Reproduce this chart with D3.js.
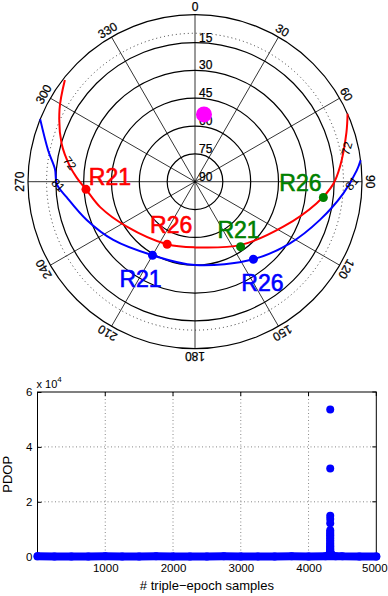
<!DOCTYPE html>
<html lang="en">
<head>
<meta charset="UTF-8">
<title>Sky plot and PDOP</title>
<script src="https://d3js.org/d3.v7.min.js"></script>
<style>
    body { margin: 0; background: #fff; }
    svg { display: block; font-family: "Liberation Sans", Arial, Helvetica, sans-serif; }
</style>
</head>
<body>
<div id="chart"></div>
<script>
    // ---- sky plot data (azimuth deg clockwise from north, elevation deg) ----
    var azTicks = [0, 30, 60, 90, 120, 150, 180, 210, 240, 270, 300, 330];
    var elRings = [15, 30, 45, 60, 75];
    var elLabels = [15, 30, 45, 60, 75, 90];
    var elMask = 10;

    // red track
    var redAz = [308, 298, 286, 277, 272, 266, 255, 237, 204, 180, 144, 117, 100, 91, 84, 72, 66];
    var redEl = [1, 7.3, 15.2, 22.1, 26.2, 31.1, 37.1, 45.9, 53.1, 54.6, 47.9, 36.6, 23.4, 15.5, 11.4, 4.2, 0];

    // blue track
    var blueAz = [292, 282, 275, 269, 263, 250.5, 234.5, 210, 180, 143, 123, 107, 94.5, 86, 82.6];
    var blueEl = [0, 9.1, 14.3, 15.5, 20.4, 28.1, 35.9, 44.2, 45.1, 37.7, 29, 19.6, 9.8, 2.6, 0];

    // satellites on the tracks
    var satName = ['R21', 'R26', 'R21', 'R26', 'R21', 'R26'];
    var satGroup = ['red', 'red', 'green', 'green', 'blue', 'blue'];
    var satAz = [266, 204, 145, 97, 210, 143];
    var satEl = [31.1, 53.1, 47.2, 20.3, 44.2, 37.7];

    // track tags
    var tagText = ['72', '81', '72', '81'];
    var tagAz = [278.4, 268.6, 77.6, 90.6];
    var tagEl = [21.9, 16.3, 6.3, 5.5];

    // magenta marker
    var markAz = 7.6;
    var markEl = 53.4;

    // ---- PDOP data ----
    var xTicks = [1000, 2000, 3000, 4000, 5000];
    var yTicks = [0, 20000, 40000, 60000];
    var baseSample = [1, 250, 500, 750, 1000, 1250, 1500, 1750, 2000, 2250, 2500, 2750, 3000,
                      3250, 3500, 3750, 4000, 4250, 4400, 4500, 4750, 5000];
    var basePdop = [120, 110, 100, 110, 120, 100, 110, 120, 110, 100, 110, 120, 110,
                    100, 110, 120, 110, 150, 200, 120, 110, 100];
    var spikeSample = [4320, 4320, 4320, 4320, 4320, 4320, 4320, 4320, 4320, 4320, 4320, 4320,
                       4320, 4320, 4320, 4320, 4320, 4320, 4320, 4320, 4320, 4320, 4320, 4320,
                       4290, 4300, 4310, 4335, 4345, 4355];
    var spikePdop = [53600, 32100, 14900, 13700, 12200, 9600, 9000, 8400, 7800, 7200, 6600, 6000,
                     5400, 4800, 4300, 3800, 3300, 2800, 2400, 2000, 1600, 1200, 800, 400,
                     400, 700, 1000, 1000, 600, 300];

    var width = 388, height = 596;
    var colors = { red: '#ff0000', green: '#008000', blue: '#0000ff' };

    var svg = d3.select('#chart').append('svg')
        .attr('width', width)
        .attr('height', height);

    svg.append('rect').attr('width', width).attr('height', height).attr('fill', '#fff');

    // ================= sky plot =================
    var cx = 195, cy = 181.7, R = 167;
    var rScale = d3.scaleLinear().domain([90, 0]).range([0, R]);
    var rad = d => d * Math.PI / 180;
    var px = (az, el) => cx + rScale(el) * Math.sin(rad(az));
    var py = (az, el) => cy - rScale(el) * Math.cos(rad(az));

    var sky = svg.append('g');

    // spokes
    sky.selectAll('.spoke')
        .data(azTicks)
        .enter().append('line')
        .attr('x1', cx).attr('y1', cy)
        .attr('x2', d => px(d, 0)).attr('y2', d => py(d, 0))
        .attr('stroke', '#000').attr('stroke-width', 0.8);

    // rings
    sky.selectAll('.ring')
        .data(elRings.concat([0]))
        .enter().append('circle')
        .attr('cx', cx).attr('cy', cy)
        .attr('r', d => rScale(d))
        .attr('fill', 'none')
        .attr('stroke', '#000').attr('stroke-width', 1.2);

    // elevation mask
    sky.append('circle')
        .attr('cx', cx).attr('cy', cy)
        .attr('r', rScale(elMask))
        .attr('fill', 'none')
        .attr('stroke', '#333').attr('stroke-width', 1)
        .attr('stroke-dasharray', '1,3');

    // azimuth labels
    sky.selectAll('.azl')
        .data(azTicks)
        .enter().append('text')
        .attr('transform', d => {
            var r = R + 8;
            var x = cx + r * Math.sin(rad(d));
            var y = cy - r * Math.cos(rad(d));
            return `translate(${x},${y}) rotate(${d})`;
        })
        .attr('text-anchor', 'middle')
        .attr('dy', '0.36em')
        .style('font-size', '12px')
        .attr('stroke', '#000').attr('stroke-width', 0.25)
        .text(d => d);

    // elevation labels
    sky.selectAll('.ell')
        .data(elLabels)
        .enter().append('text')
        .attr('x', cx + 4)
        .attr('y', d => cy - rScale(d) - 1)
        .style('font-size', '12px')
        .attr('stroke', '#000').attr('stroke-width', 0.25)
        .text(d => d);

    // tracks
    var line = d3.line().curve(d3.curveCatmullRom.alpha(0.5));
    var tracks = [
        { c: 'red', pts: redAz.map((a, i) => [px(a, redEl[i]), py(a, redEl[i])]) },
        { c: 'blue', pts: blueAz.map((a, i) => [px(a, blueEl[i]), py(a, blueEl[i])]) }
    ];
    sky.selectAll('.track')
        .data(tracks)
        .enter().append('path')
        .attr('d', d => line(d.pts))
        .attr('fill', 'none')
        .attr('stroke', d => colors[d.c])
        .attr('stroke-width', 2);

    // track tags
    var tagRot = [53, 45, -74, -50];
    sky.selectAll('.tag')
        .data(tagText)
        .enter().append('text')
        .attr('transform', (d, i) => `translate(${px(tagAz[i], tagEl[i])},${py(tagAz[i], tagEl[i])}) rotate(${tagRot[i]})`)
        .attr('text-anchor', 'middle')
        .attr('dy', '0.36em')
        .style('font-size', '12px')
        .text(d => d);

    // satellites
    var labelDx = [24, 4, -2, -23, -12, 9];
    var labelDy = [-13, -20, -17, -15, 23, 23];
    satName.forEach(function(name, i) {
        var x = px(satAz[i], satEl[i]), y = py(satAz[i], satEl[i]);
        sky.append('circle')
            .attr('cx', x).attr('cy', y).attr('r', 4.5)
            .attr('fill', colors[satGroup[i]]);
        sky.append('text')
            .attr('x', x + labelDx[i])
            .attr('y', y + labelDy[i] + 8.3)
            .attr('text-anchor', 'middle')
            .attr('fill', colors[satGroup[i]])
            .attr('stroke', colors[satGroup[i]]).attr('stroke-width', 0.6)
            .style('font-size', '23px')
            .text(name);
    });

    // magenta marker
    sky.append('circle')
        .attr('cx', px(markAz, markEl)).attr('cy', py(markAz, markEl))
        .attr('r', 8)
        .attr('fill', '#ff00ff');

    // ================= PDOP plot =================
    var boxL = 37.5, boxR = 376.3, boxT = 392, boxB = 556.7;
    var xs = d3.scaleLinear().domain([0, 5000]).range([boxL, boxR]);
    var ys = d3.scaleLinear().domain([0, 60000]).range([boxB, boxT]);

    var g = svg.append('g');

    // grid
    g.selectAll('.gx')
        .data(xTicks.filter(d => d < 5000))
        .enter().append('line')
        .attr('x1', d => xs(d)).attr('x2', d => xs(d))
        .attr('y1', boxT).attr('y2', boxB)
        .attr('stroke', '#555').attr('stroke-width', 0.7)
        .attr('stroke-dasharray', '1,2.5');
    g.selectAll('.gy')
        .data(yTicks.filter(d => d > 0 && d < 60000))
        .enter().append('line')
        .attr('x1', boxL).attr('x2', boxR)
        .attr('y1', d => ys(d)).attr('y2', d => ys(d))
        .attr('stroke', '#555').attr('stroke-width', 0.7)
        .attr('stroke-dasharray', '1,2.5');

    // axes
    var xAxis = g.append('g')
        .attr('transform', `translate(0,${boxB})`)
        .call(d3.axisBottom(xs).tickValues(xTicks).tickSize(-4).tickPadding(7)
            .tickFormat(d3.format('d')));
    var yAxis = g.append('g')
        .attr('transform', `translate(${boxL},0)`)
        .call(d3.axisLeft(ys).tickValues(yTicks).tickSize(-4).tickPadding(5)
            .tickFormat(d => d / 10000));
    [xAxis, yAxis].forEach(a => {
        a.select('.domain').remove();
        a.selectAll('text').style('font-size', '11.5px').style('font-family', 'inherit').attr('fill', '#000');
        a.selectAll('.tick line').attr('stroke', '#000');
    });
    // keep the last x label inside the page
    xAxis.selectAll('.tick text').filter(d => d === 5000).attr('dx', -2);

    // top / right ticks
    g.selectAll('.tt')
        .data(xTicks)
        .enter().append('line')
        .attr('x1', d => xs(d)).attr('x2', d => xs(d))
        .attr('y1', boxT).attr('y2', boxT + 4)
        .attr('stroke', '#000');
    g.selectAll('.rt')
        .data(yTicks)
        .enter().append('line')
        .attr('x1', boxR - 4).attr('x2', boxR)
        .attr('y1', d => ys(d)).attr('y2', d => ys(d))
        .attr('stroke', '#000');

    g.append('rect')
        .attr('x', boxL).attr('y', boxT)
        .attr('width', boxR - boxL).attr('height', boxB - boxT)
        .attr('fill', 'none')
        .attr('stroke', '#000').attr('stroke-width', 1);

    // data: baseline band and spike
    g.append('path')
        .datum(baseSample.map((s, i) => [xs(s), ys(basePdop[i])]))
        .attr('d', d3.line())
        .attr('fill', 'none')
        .attr('stroke', '#0000ff')
        .attr('stroke-width', 8)
        .attr('stroke-linecap', 'round');
    g.selectAll('.bdot')
        .data(baseSample)
        .enter().append('circle')
        .attr('cx', d => xs(d))
        .attr('cy', (d, i) => ys(basePdop[i]))
        .attr('r', 4)
        .attr('fill', '#0000ff');
    g.selectAll('.sdot')
        .data(spikeSample)
        .enter().append('circle')
        .attr('cx', d => xs(d))
        .attr('cy', (d, i) => ys(spikePdop[i]))
        .attr('r', 4)
        .attr('fill', '#0000ff');

    // labels
    svg.append('text')
        .attr('x', boxL - 1).attr('y', 388)
        .style('font-size', '11px')
        .text('x 10')
        .append('tspan')
        .attr('dy', -6)
        .style('font-size', '8px')
        .text('4');

    svg.append('text')
        .attr('transform', `translate(11.5,${(boxT + boxB) / 2}) rotate(-90)`)
        .attr('text-anchor', 'middle')
        .style('font-size', '13px')
        .text('PDOP');

    svg.append('text')
        .attr('x', (boxL + boxR) / 2)
        .attr('y', 590)
        .attr('text-anchor', 'middle')
        .style('font-size', '13px')
        .text('# triple\u2212epoch samples');
</script>
</body>
</html>
